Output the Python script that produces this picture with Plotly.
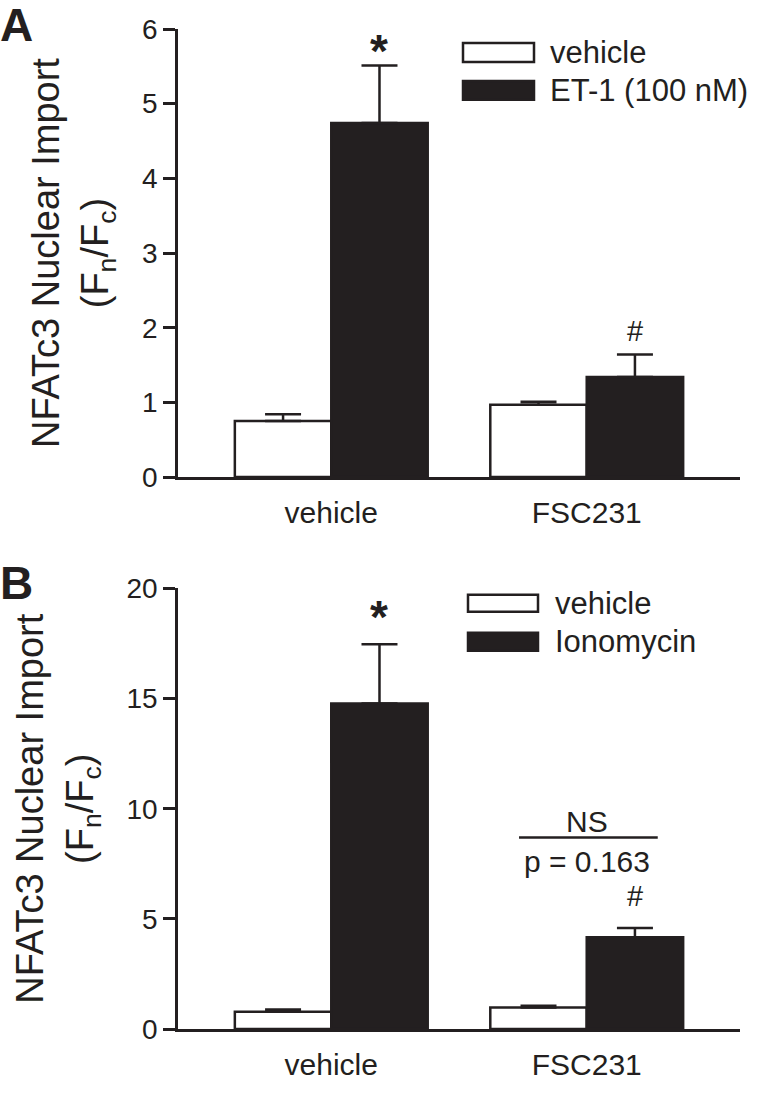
import plotly.graph_objects as go

# ---------------- data ----------------
categories = ["vehicle", "FSC231"]

a_vehicle_mean = [0.75, 0.97]
a_vehicle_sem = [0.09, 0.04]
a_et1_mean = [4.74, 1.34]
a_et1_sem = [0.77, 0.30]

b_vehicle_mean = [0.78, 0.98]
b_vehicle_sem = [0.11, 0.07]
b_iono_mean = [14.78, 4.16]
b_iono_sem = [2.68, 0.42]

a_ticks = [0, 1, 2, 3, 4, 5, 6]
b_ticks = [0, 5, 10, 15, 20]

legend_a = ["vehicle", "ET-1 (100 nM)"]
legend_b = ["vehicle", "Ionomycin"]

# ---------------- style ----------------
INK = "#231f20"
FONT = "Liberation Sans, Arial, Helvetica, sans-serif"
W, H = 760, 1093
ML, MR, MT, MB = 178, 20, 29, 62
BARGAP = 0.245
LW = 2.5


def px(x):
    return (x - ML) / (W - ML - MR)


def py(y):
    return (H - MB - y) / (H - MT - MB)


fig = go.Figure()


def add_bars(means, sems, fill, name, xa, ya):
    fig.add_trace(go.Bar(
        x=categories, y=means, name=name, xaxis=xa, yaxis=ya,
        marker=dict(color=fill, line=dict(color=INK, width=LW)),
        error_y=dict(type="data", array=sems, arrayminus=[0] * len(sems),
                     symmetric=False, color=INK, thickness=LW, width=18),
        showlegend=False,
    ))


add_bars(a_vehicle_mean, a_vehicle_sem, "white", legend_a[0], "x", "y")
add_bars(a_et1_mean, a_et1_sem, INK, legend_a[1], "x", "y")
add_bars(b_vehicle_mean, b_vehicle_sem, "white", legend_b[0], "x2", "y2")
add_bars(b_iono_mean, b_iono_sem, INK, legend_b[1], "x2", "y2")

axis_common = dict(showline=True, linecolor=INK, linewidth=LW, showgrid=False,
                   zeroline=False, color=INK)

ytitle = "NFATc3 Nuclear Import<br>(F<sub>n</sub>/F<sub>c</sub>)"

fig.update_layout(
    width=W, height=H,
    margin=dict(l=ML, r=MR, t=MT, b=MB),
    paper_bgcolor="white", plot_bgcolor="white",
    barmode="group", bargap=BARGAP, bargroupgap=0,
    font=dict(family=FONT, color=INK),
    xaxis=dict(domain=[0, 1], anchor="y", range=[-0.6, 1.6], ticks="",
               tickfont=dict(size=30), ticklabelstandoff=7, **axis_common),
    yaxis=dict(domain=[py(478), 1], anchor="x", range=[0, 6], tickvals=a_ticks,
               ticks="outside", ticklen=12, tickwidth=LW, tickcolor=INK,
               tickfont=dict(size=28),
               title=dict(text=ytitle, font=dict(size=38), standoff=22),
               **axis_common),
    xaxis2=dict(domain=[0, 1], anchor="y2", range=[-0.6, 1.6], ticks="",
                tickfont=dict(size=30), ticklabelstandoff=7, **axis_common),
    yaxis2=dict(domain=[0, py(589.5)], anchor="x2", range=[0, 20], tickvals=b_ticks,
                ticks="outside", ticklen=12, tickwidth=LW, tickcolor=INK,
                tickfont=dict(size=28),
                title=dict(text=ytitle, font=dict(size=38), standoff=22),
                **axis_common),
)

off = (1 - BARGAP) / 4  # centre offset of each bar within a group

ann = []
# panel letters
ann.append(dict(text="<b>A</b>", x=px(-2), y=py(-3), xref="paper", yref="paper",
                xanchor="left", yanchor="top", showarrow=False, font=dict(size=46)))
ann.append(dict(text="<b>B</b>", x=px(-2), y=py(556), xref="paper", yref="paper",
                xanchor="left", yanchor="top", showarrow=False, font=dict(size=46)))

# significance marks, panel A
ann.append(dict(text="<b>*</b>", x=0 + off, y=a_et1_mean[0] + a_et1_sem[0],
                xref="x", yref="y", yanchor="bottom", showarrow=False,
                font=dict(size=46), yshift=-13))
ann.append(dict(text="#", x=1 + off, y=a_et1_mean[1] + a_et1_sem[1],
                xref="x", yref="y", yanchor="bottom", showarrow=False,
                font=dict(size=29), yshift=6))
# panel B
ann.append(dict(text="<b>*</b>", x=0 + off, y=b_iono_mean[0] + b_iono_sem[0],
                xref="x2", yref="y2", yanchor="bottom", showarrow=False,
                font=dict(size=46), yshift=-1))
ann.append(dict(text="#", x=1 + off, y=b_iono_mean[1] + b_iono_sem[1],
                xref="x2", yref="y2", yanchor="bottom", showarrow=False,
                font=dict(size=29), yshift=14))
ann.append(dict(text="NS", x=1.0, y=9.42, xref="x2", yref="y2", showarrow=False,
                font=dict(size=30)))
ann.append(dict(text="p = 0.163", x=1.0, y=7.6, xref="x2", yref="y2", showarrow=False,
                font=dict(size=30)))

shapes = [dict(type="line", xref="x2", yref="y2", x0=0.735, x1=1.278, y0=8.69, y1=8.69,
               line=dict(color=INK, width=LW))]

# manual legends (large swatches)
def legend(labels, x0, x1, tx, rows):
    for (yt, yb), lab, fill in zip(rows, labels, ["white", INK]):
        shapes.append(dict(type="rect", xref="paper", yref="paper",
                           x0=px(x0), x1=px(x1), y0=py(yb), y1=py(yt),
                           fillcolor=fill, line=dict(color=INK, width=LW)))
        ann.append(dict(text=lab, x=px(tx), y=py((yt + yb) / 2), xref="paper", yref="paper",
                        xanchor="left", yanchor="middle", showarrow=False,
                        font=dict(size=31)))


legend(legend_a, 463, 534, 548, [(43, 62), (81, 100)])
legend(legend_b, 468, 538, 553, [(596, 613), (634, 652)])

fig.update_layout(annotations=ann, shapes=shapes)

fig.write_html("out.html", config={"displayModeBar": False},
               post_script="document.body.style.margin='0';document.body.style.overflow='hidden';")
